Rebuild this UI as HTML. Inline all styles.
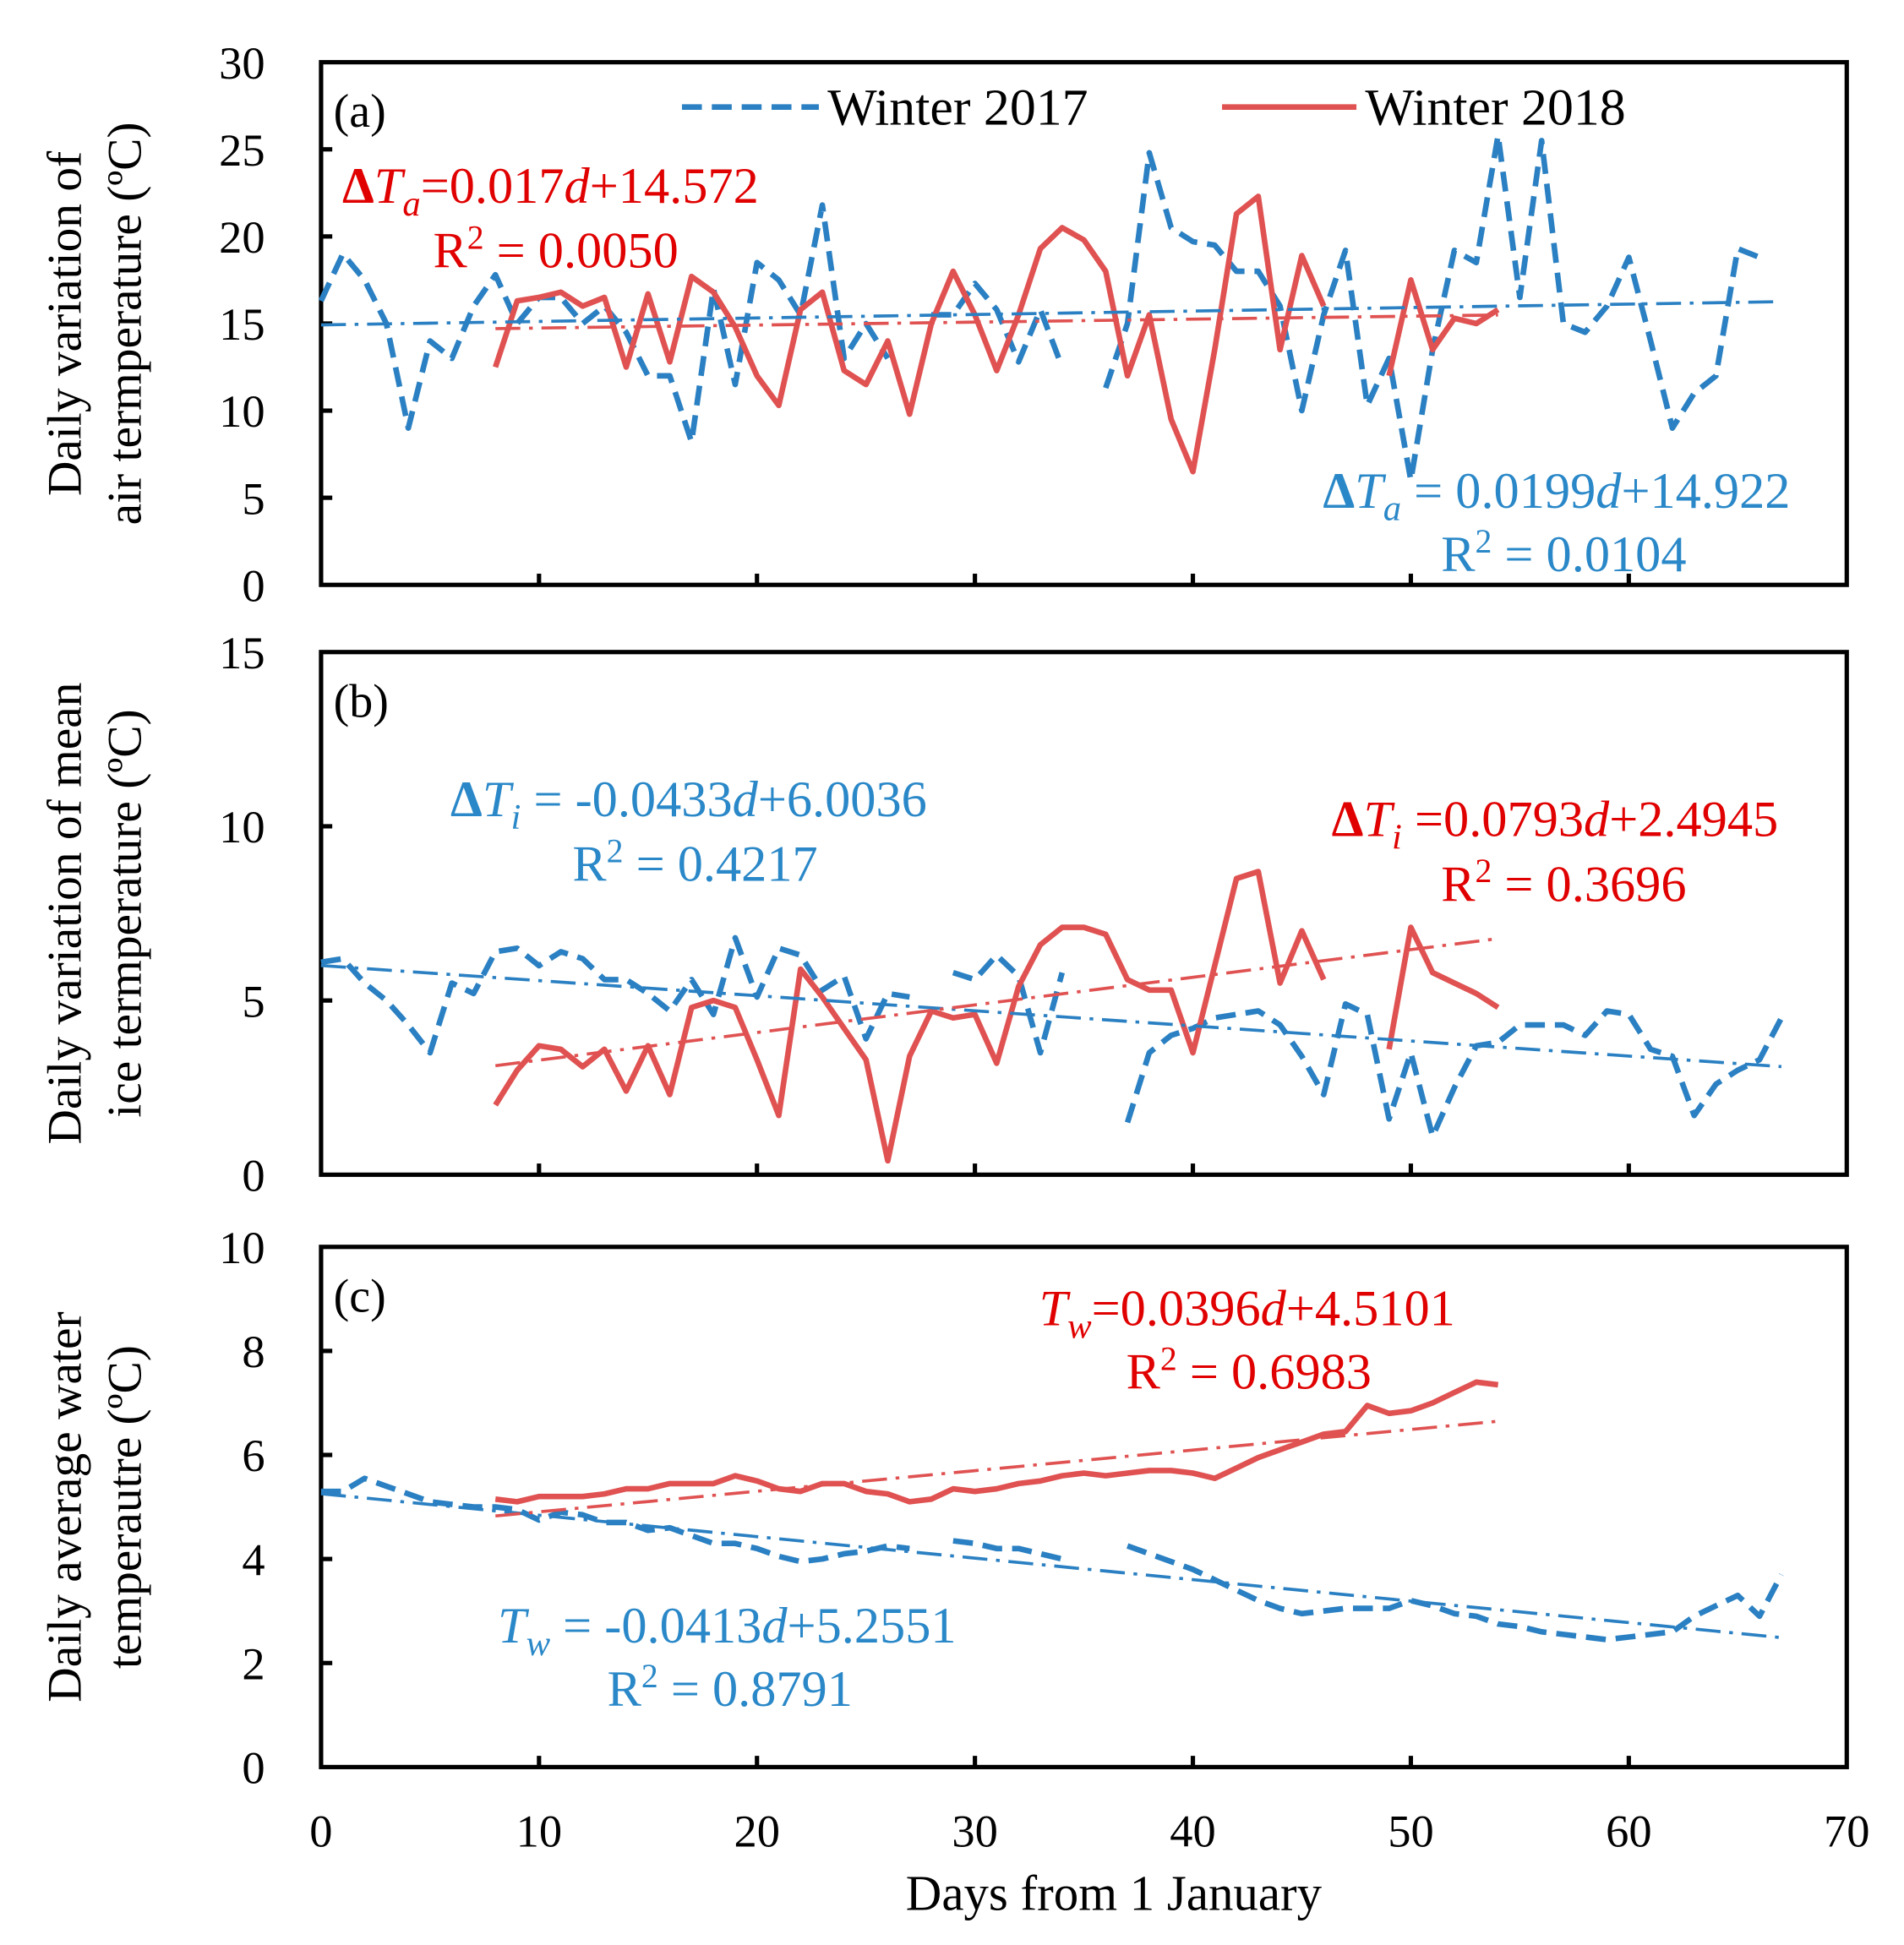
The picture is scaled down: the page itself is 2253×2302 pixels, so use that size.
<!DOCTYPE html>
<html><head><meta charset="utf-8"><style>
html,body{margin:0;padding:0;background:#fff}
svg{display:block}
text{font-family:"Liberation Serif",serif}
</style></head><body>
<svg id="chart" width="2253" height="2302" viewBox="0 0 1530 1563" preserveAspectRatio="none" xmlns="http://www.w3.org/2000/svg"></svg>
<script>
const days2017 = Array.from({length:68},(_,i)=>i);
const days2018 = Array.from({length:47},(_,i)=>i+8);
const airBlue = [16.3,19,17.5,15,9,14,13,16,17.8,15,16.5,16.5,15,16,14.5,12,12,8.2,17,11.5,18.5,17.5,15.5,21.8,13,15,13,null,15.5,15.5,17.3,15.8,12.8,15.8,12.5,null,11.3,15,24.8,20.5,19.7,19.5,18,18,16,10,15.5,19.2,10.3,13,6,13.5,19.2,18.5,25.8,16.5,25.5,15,14.5,16,18.8,14,9,11,12,19.3,18.8,null];
const airRed = [12.5,16.3,16.5,16.8,16,16.5,12.5,16.7,12.8,17.7,16.8,14.8,12,10.3,15.8,16.8,12.3,11.5,14,9.8,15,18,15.5,12.3,15.5,19.3,20.5,19.8,18,12,15.5,9.5,6.5,13.5,21.3,22.3,13.5,18.9,16,null,null,12,17.5,13.5,15.3,15,15.8];
const iceBlue = [6.1,6.2,5.5,5,4.3,3.5,5.5,5.2,6.4,6.5,6,6.4,6.2,5.6,5.6,5.2,4.7,5.6,4.6,6.8,5.1,6.5,6.3,5.3,5.7,3.9,5.2,5.1,null,5.8,5.6,6.3,5.7,3.5,5.8,null,null,1.5,3.5,4,4.2,4.5,4.6,4.7,4.3,3.4,2.3,4.9,4.6,1.6,3.5,1.1,2.5,3.7,3.8,4.3,4.3,4.3,4,4.7,4.6,3.6,3.4,1.7,2.6,3,3.3,4.5];
const iceRed = [2,3,3.7,3.6,3.1,3.6,2.4,3.7,2.3,4.8,5,4.8,3.3,1.7,5.9,5.1,4.2,3.3,0.4,3.4,4.7,4.5,4.6,3.2,5.4,6.6,7.1,7.1,6.9,5.6,5.3,5.3,3.5,6,8.5,8.7,5.5,7,5.6,null,null,3.6,7.1,5.8,5.5,5.2,4.8];
const waterBlue = [5.3,5.3,5.55,5.4,5.25,5.1,5.05,5,5,4.95,4.75,4.9,4.85,4.7,4.7,4.55,4.6,4.45,4.3,4.3,4.2,4.05,3.95,4,4.1,4.15,4.25,4.2,null,4.35,4.3,4.2,4.2,4.1,4,null,null,4.25,4.1,3.95,3.8,3.6,3.4,3.2,3.05,2.95,3,3.05,3.05,3.05,3.2,3.1,2.95,2.9,2.75,2.7,2.6,2.55,2.5,2.45,2.5,2.55,2.6,2.9,3.1,3.3,2.9,3.7];
const waterRed = [5.15,5.1,5.2,5.2,5.2,5.25,5.35,5.35,5.45,5.45,5.45,5.6,5.5,5.35,5.3,5.45,5.45,5.3,5.25,5.1,5.15,5.35,5.3,5.35,5.45,5.5,5.6,5.65,5.6,5.65,5.7,5.7,5.65,5.55,5.75,5.95,6.1,6.25,6.4,6.45,6.95,6.8,6.85,7,7.2,7.4,7.35];
const trendA = {blue:[0.0199,14.922,0,67], red:[0.017,14.572,8,54]};
const trendB = {blue:[-0.0433,6.0036,0,67], red:[0.0793,2.4945,8,54]};
const trendC = {blue:[-0.0413,5.2551,0,67], red:[0.0396,4.5101,8,54]};
const xTicks = [0,10,20,30,40,50,60,70];

const NS="http://www.w3.org/2000/svg";
const svg=document.getElementById('chart');
const BLUE="#2a80c2", RED="#e05252", RT="#e00000", BT="#2a88c8";
const X0=258, X1=1484;
const xs=d=>X0+(X1-X0)*d/70;
function mk(tag,attrs,parent){const e=document.createElementNS(NS,tag);for(const k in attrs)e.setAttribute(k,attrs[k]);(parent||svg).appendChild(e);return e;}
function txt(x,y,s,size,color,anchor,parent){const t=mk('text',{x:x,y:y,'font-size':size,fill:color||'#000','text-anchor':anchor||'start'},parent);t.innerHTML=s;return t;}

const panels=[
 {id:'a',top:50,bot:470,max:30,step:5,b:airBlue,r:airRed,tr:trendA,title:['Daily variation of','air termperature (ºC)']},
 {id:'b',top:524,bot:944,max:15,step:5,b:iceBlue,r:iceRed,tr:trendB,title:['Daily variation of mean','ice termperature (ºC)']},
 {id:'c',top:1002,bot:1420,max:10,step:2,b:waterBlue,r:waterRed,tr:trendC,title:['Daily average water','temperautre (ºC)']}
];
panels.forEach(p=>{
  const g=mk('g',{});
  
  
  const ys=v=>p.bot-(p.bot-p.top)*v/p.max;
  const frame=mk('rect',{x:X0,y:p.top,width:X1-X0,height:p.bot-p.top,fill:'none',stroke:'#000','stroke-width':3.5},g);
  
  
  for(let v=0;v<=p.max;v+=p.step){
    const y=ys(v);
    if(v>0&&v<p.max) mk('line',{x1:X0,x2:X0+9,y1:y,y2:y,stroke:'#000','stroke-width':3.5},g);
    const t=txt(X0-45,y+13,String(v),37,'#000','end',g);
    
    
  }
  xTicks.forEach(d=>{ if(d>0&&d<70) mk('line',{x1:xs(d),x2:xs(d),y1:p.bot,y2:p.bot-9,stroke:'#000','stroke-width':3.5},g);});
  const yt=mk('text',{transform:`translate(75,${(p.top+p.bot)/2}) rotate(-90)`,'font-size':39,'text-anchor':'middle'},g);
  yt.innerHTML=`<tspan x="0" dy="-10">${p.title[0]}</tspan><tspan x="0" dy="48">${p.title[1]}</tspan>`;
  
  
  txt(268,p.top+52,'('+p.id+')',38,'#000','start',g);
  function series(vals,days,color,dash,name){
    let d='',pen=false;
    vals.forEach((v,i)=>{ if(v===null){pen=false;return;} d+=(pen?'L':'M')+xs(days[i]).toFixed(1)+' '+ys(v).toFixed(1)+' '; pen=true;});
    const pth=mk('path',{d:d,fill:'none',stroke:color,'stroke-width':4.5,'stroke-dasharray':dash||'none','stroke-linejoin':'round'},g);
    
    
  }
  series(p.b,days2017,BLUE,'16 8','series-2017-'+p.id);
  series(p.r,days2018,RED,null,'series-2018-'+p.id);
  [['blue',BLUE],['red',RED]].forEach(([k,c])=>{
    const [m,b,d0,d1]=p.tr[k];
    const l=mk('line',{x1:xs(d0),y1:ys(m*d0+b),x2:xs(d1),y2:ys(m*d1+b),stroke:c,'stroke-width':2.5,'stroke-dasharray':'20 7 3 7'},g);
    
    
  });
});
xTicks.forEach(d=>{const t=txt(xs(d),1484,String(d),37,'#000','middle');
 
 });
const xt=txt(895,1535,'Days from 1 January',40,'#000','middle');


const lg=mk('g',{});


mk('line',{x1:548,x2:658,y1:86,y2:86,stroke:BLUE,'stroke-width':4.5,'stroke-dasharray':'16 8'},lg);
txt(665,100,'Winter 2017',42,'#000','start',lg);
mk('line',{x1:982,x2:1090,y1:86,y2:86,stroke:RED,'stroke-width':4.5},lg);
txt(1097,100,'Winter 2018',42,'#000','start',lg);
function ann(x,y,html,color,anchor,name){const t=txt(x,y,html,41,color,anchor||'start');}
ann(275,163,'<tspan font-weight="bold">Δ</tspan><tspan font-style="italic">T</tspan><tspan font-style="italic" font-size="29" dy="10">a</tspan><tspan dy="-10">=0.017</tspan><tspan font-style="italic">d</tspan>+14.572',RT,'start','equation-air-2018');
ann(348,215,'R<tspan font-size="27" dy="-15">2</tspan><tspan dy="15"> = 0.0050</tspan>',RT,'start','r2-air-2018');
ann(1063,408,'<tspan font-weight="bold">Δ</tspan><tspan font-style="italic">T</tspan><tspan font-style="italic" font-size="29" dy="10">a</tspan><tspan dy="-10"> = 0.0199</tspan><tspan font-style="italic">d</tspan>+14.922',BT,'start','equation-air-2017');
ann(1158,459,'R<tspan font-size="27" dy="-15">2</tspan><tspan dy="15"> = 0.0104</tspan>',BT,'start','r2-air-2017');
ann(362,656,'<tspan font-weight="bold">Δ</tspan><tspan font-style="italic">T</tspan><tspan font-style="italic" font-size="29" dy="10">i</tspan><tspan dy="-10"> = -0.0433</tspan><tspan font-style="italic">d</tspan>+6.0036',BT,'start','equation-ice-2017');
ann(460,708,'R<tspan font-size="27" dy="-15">2</tspan><tspan dy="15"> = 0.4217</tspan>',BT,'start','r2-ice-2017');
ann(1070,672,'<tspan font-weight="bold">Δ</tspan><tspan font-style="italic">T</tspan><tspan font-style="italic" font-size="29" dy="10">i</tspan><tspan dy="-10"> =0.0793</tspan><tspan font-style="italic">d</tspan>+2.4945',RT,'start','equation-ice-2018');
ann(1158,724,'R<tspan font-size="27" dy="-15">2</tspan><tspan dy="15"> = 0.3696</tspan>',RT,'start','r2-ice-2018');
ann(835,1065,'<tspan font-style="italic">T</tspan><tspan font-style="italic" font-size="29" dy="10">w</tspan><tspan dy="-10">=0.0396</tspan><tspan font-style="italic">d</tspan>+4.5101',RT,'start','equation-water-2018');
ann(905,1116,'R<tspan font-size="27" dy="-15">2</tspan><tspan dy="15"> = 0.6983</tspan>',RT,'start','r2-water-2018');
ann(400,1320,'<tspan font-style="italic">T</tspan><tspan font-style="italic" font-size="29" dy="10">w</tspan><tspan dy="-10"> = -0.0413</tspan><tspan font-style="italic">d</tspan>+5.2551',BT,'start','equation-water-2017');
ann(488,1371,'R<tspan font-size="27" dy="-15">2</tspan><tspan dy="15"> = 0.8791</tspan>',BT,'start','r2-water-2017');
</script>
</body></html>
